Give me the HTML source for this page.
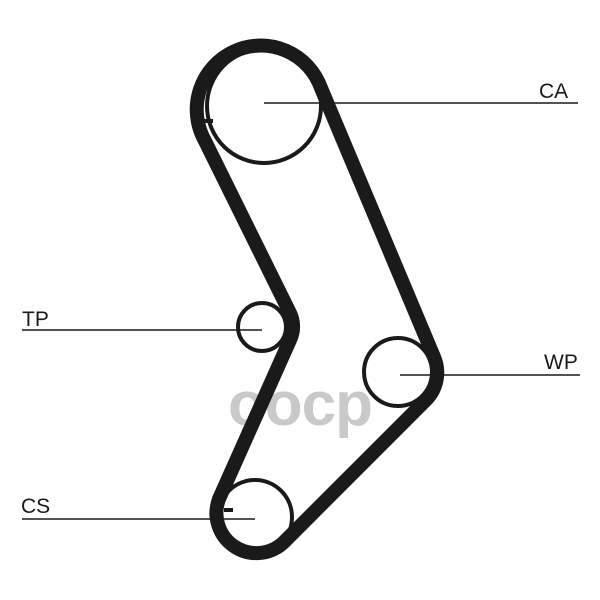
<!DOCTYPE html>
<html><head><meta charset="utf-8"><style>
html,body{margin:0;padding:0;background:#fff;}
svg{display:block;}
</style></head><body>
<svg width="600" height="600" viewBox="0 0 600 600" xmlns="http://www.w3.org/2000/svg">
<rect width="600" height="600" fill="#fff"/>
<text x="300" y="425" text-anchor="middle" font-family="Liberation Sans, sans-serif" font-weight="bold" font-size="62" fill="#c9c9c9" letter-spacing="-1">oocp</text>
<g fill="none" stroke="#1a1a1a">
<path d="M321,88 L434,357 A39 39 0 0 1 426,400 L283,543 A40 40 0 0 1 219,499 L290,340 A31 31 0 0 0 290,313 L205,141 A64 64 0 1 1 321,88 Z" stroke-width="14" stroke-linejoin="round"/>
<circle cx="264" cy="106" r="57" stroke-width="4"/>
<circle cx="262" cy="327" r="24" stroke-width="4"/>
<circle cx="398" cy="372" r="34" stroke-width="4"/>
<circle cx="255" cy="517" r="37" stroke-width="4"/>
<line x1="204" y1="121" x2="213" y2="121" stroke-width="4"/>
<line x1="224" y1="510" x2="233" y2="510" stroke-width="4"/>
<g stroke-width="1.6">
<line x1="264" y1="103" x2="578" y2="103"/>
<line x1="22" y1="330" x2="262" y2="330"/>
<line x1="400" y1="375" x2="580" y2="375"/>
<line x1="22" y1="519" x2="255" y2="519"/>
</g>
</g>
<g font-family="Liberation Sans, sans-serif" font-size="21" fill="#1a1a1a">
<text x="539" y="98">CA</text>
<text x="22" y="326">TP</text>
<text x="544" y="369">WP</text>
<text x="21" y="513">CS</text>
</g>
</svg>
</body></html>
